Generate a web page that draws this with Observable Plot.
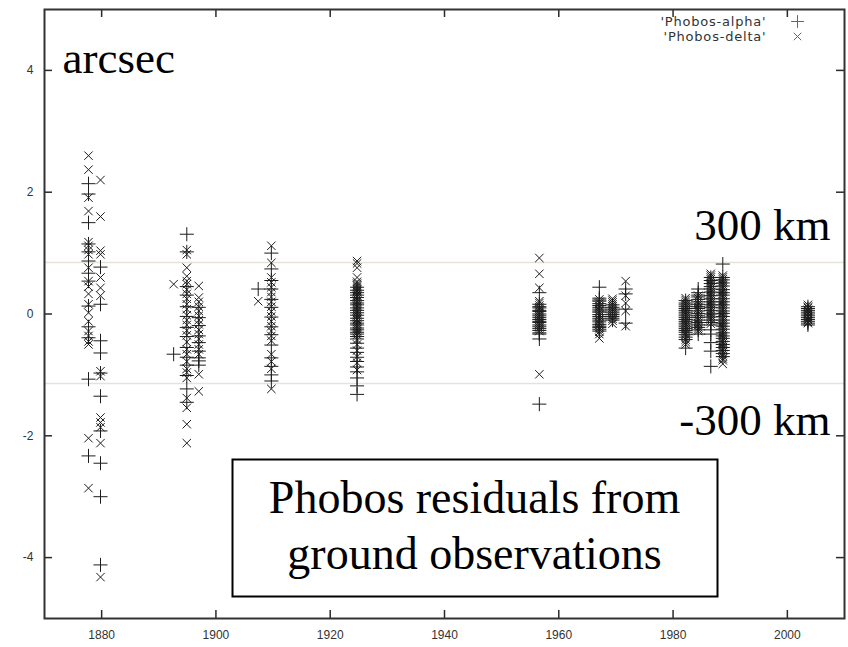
<!DOCTYPE html>
<html>
<head>
<meta charset="utf-8">
<script src="https://cdn.jsdelivr.net/npm/d3@7"></script>
<script src="https://cdn.jsdelivr.net/npm/@observablehq/plot@0.6"></script>
<style>
  html, body { margin: 0; padding: 0; background: #fff; }
  #chart { width: 848px; height: 647px; }
</style>
</head>
<body>
<div id="chart"></div>
<script>
// Observation epochs (years) and residuals (arcsec) per epoch
const epochs = [1877.7, 1879.8, 1892.6, 1894.9, 1897.0, 1907.4, 1909.7, 1924.7, 1956.6, 1967.1, 1969.4, 1971.7, 1982.2, 1984.4, 1986.6, 1988.7, 2003.6];

const alphaValues = [
  [2.14, 1.97, 1.50, 1.15, 1.02, 0.87, 0.67, 0.54, 0.13, -0.21, -0.39, -1.07, -2.33],
  [0.77, 0.16, -0.44, -0.64, -0.97, -1.35, -1.92, -2.45, -3.0, -4.12],
  [-0.66],
  [1.31, 1.02, 0.45, 0.31, 0.12, -0.04, -0.22, -0.37, -0.55, -0.71, -0.84, -1.01, -1.23, -1.45],
  [0.11, -0.06, -0.19, -0.36, -0.47, -0.61, -0.72, -0.77, -0.84],
  [0.41],
  [1.0, 0.74, 0.55, 0.41, 0.24, 0.11, -0.05, -0.21, -0.34, -0.51, -0.72, -0.86, -1.0, -1.1],
  [0.44, 0.39, 0.35, 0.31, 0.27, 0.22, 0.18, 0.15, 0.1, 0.06, 0.02, -0.02, -0.07, -0.11, -0.15, -0.18, -0.23, -0.26, -0.3, -0.33, -0.37, -0.41, -0.48, -0.56, -0.63, -0.71, -0.78, -0.87, -0.95, -1.05, -1.18, -1.32],
  [0.35, 0.16, 0.12, 0.1, 0.06, 0.04, 0.0, -0.03, -0.06, -0.09, -0.12, -0.14, -0.18, -0.21, -0.24, -0.27, -0.31, -0.33, -0.41, -1.48],
  [0.44, 0.26, 0.23, 0.21, 0.17, 0.14, 0.11, 0.08, 0.05, 0.03, -0.01, -0.04, -0.07, -0.1, -0.13, -0.17, -0.2, -0.22, -0.25, -0.28],
  [0.15, 0.11, 0.08, 0.05, 0.02, -0.01, -0.04, -0.07, -0.1],
  [0.41, 0.33, 0.08, -0.15],
  [0.22, 0.18, 0.15, 0.12, 0.09, 0.06, 0.03, 0.0, -0.03, -0.06, -0.09, -0.12, -0.15, -0.18, -0.21, -0.24, -0.27, -0.3, -0.34, -0.38, -0.42, -0.56],
  [0.41, 0.35, 0.31, 0.28, 0.24, 0.2, 0.16, 0.12, 0.09, 0.05, 0.01, -0.03, -0.06, -0.1, -0.14, -0.18, -0.22, -0.26, -0.33],
  [0.6, 0.55, 0.5, 0.45, 0.41, 0.36, 0.3, 0.25, 0.2, 0.15, 0.11, 0.06, 0.0, -0.05, -0.1, -0.14, -0.18, -0.26, -0.33, -0.47, -0.61, -0.86],
  [0.82, 0.6, 0.56, 0.51, 0.46, 0.4, 0.35, 0.31, 0.25, 0.2, 0.15, 0.1, 0.05, 0.01, -0.04, -0.1, -0.15, -0.2, -0.25, -0.31, -0.36, -0.4, -0.45, -0.5, -0.55, -0.6, -0.65, -0.7],
  [0.12, 0.09, 0.06, 0.03, 0.0, -0.03, -0.06, -0.09, -0.12, -0.15, -0.18]
];

const deltaValues = [
  [2.60, 2.37, 1.91, 1.69, 1.18, 1.12, 1.05, 0.98, 0.76, 0.54, 0.45, 0.33, 0.16, 0.02, -0.12, -0.28, -0.36, -0.45, -0.5, -2.04, -2.86],
  [2.20, 1.60, 1.04, 0.98, 0.6, 0.43, 0.3, -0.94, -1.02, -1.70, -1.78, -1.86, -2.12, -4.32],
  [0.49],
  [1.05, 0.98, 0.76, 0.62, 0.54, 0.49, 0.40, 0.33, 0.25, 0.16, 0.08, -0.02, -0.1, -0.18, -0.27, -0.35, -0.46, -0.58, -0.66, -0.78, -0.9, -0.96, -1.05, -1.38, -1.54, -1.81, -2.12],
  [0.46, 0.27, 0.2, 0.12, 0.05, -0.03, -0.1, -0.17, -0.26, -0.33, -0.41, -0.5, -0.58, -0.66, -0.99, -1.27],
  [0.21],
  [1.12, 0.84, 0.6, 0.52, 0.44, 0.36, 0.28, 0.2, 0.12, 0.04, -0.04, -0.12, -0.2, -0.28, -0.36, -0.44, -0.66, -0.78, -0.9, -1.23],
  [0.87, 0.83, 0.76, 0.6, 0.53, 0.5, 0.47, 0.45, 0.42, 0.4, 0.38, 0.36, 0.33, 0.3, 0.28, 0.25, 0.22, 0.2, 0.17, 0.14, 0.12, 0.09, 0.06, 0.04, 0.01, -0.02, -0.05, -0.08, -0.1, -0.13, -0.16, -0.19, -0.22, -0.25, -0.28, -0.31, -0.34, -0.42, -0.5, -0.6, -0.7, -0.8, -0.92],
  [0.92, 0.66, 0.43, 0.21, 0.18, 0.14, 0.11, 0.08, 0.05, 0.02, -0.01, -0.04, -0.07, -0.1, -0.13, -0.16, -0.19, -0.22, -0.25, -0.28, -0.99],
  [0.24, 0.2, 0.17, 0.13, 0.1, 0.06, 0.03, -0.01, -0.04, -0.08, -0.11, -0.15, -0.18, -0.22, -0.25, -0.29, -0.33, -0.4],
  [0.25, 0.22, 0.19, 0.16, 0.13, 0.1, 0.07, 0.04, 0.01, -0.02, -0.05, -0.08, -0.11, -0.16],
  [0.54, 0.3, 0.18, 0.05, -0.2],
  [0.26, 0.23, 0.2, 0.17, 0.14, 0.11, 0.08, 0.05, 0.02, -0.01, -0.04, -0.07, -0.1, -0.13, -0.16, -0.19, -0.22, -0.25, -0.28, -0.31, -0.34, -0.38, -0.42, -0.46, -0.5],
  [0.3, 0.26, 0.22, 0.18, 0.15, 0.11, 0.08, 0.04, 0.0, -0.04, -0.08, -0.11, -0.15, -0.18, -0.22, -0.25, -0.28],
  [0.66, 0.63, 0.6, 0.57, 0.54, 0.51, 0.48, 0.45, 0.42, 0.39, 0.36, 0.33, 0.3, 0.27, 0.24, 0.21, 0.18, 0.15, 0.12, 0.09, 0.06, 0.03, 0.0, -0.03, -0.06, -0.09, -0.12, -0.16],
  [0.63, 0.6, 0.57, 0.54, 0.51, 0.48, 0.45, 0.42, 0.39, 0.36, 0.33, 0.3, 0.27, 0.24, 0.21, 0.18, 0.15, 0.12, 0.09, 0.06, 0.03, 0.0, -0.03, -0.06, -0.09, -0.12, -0.15, -0.18, -0.21, -0.24, -0.27, -0.3, -0.33, -0.36, -0.39, -0.42, -0.45, -0.48, -0.51, -0.54, -0.57, -0.6, -0.63, -0.66, -0.69, -0.73, -0.76, -0.82],
  [0.15, 0.12, 0.1, 0.07, 0.05, 0.02, 0.0, -0.03, -0.05, -0.08, -0.1, -0.13, -0.15]
];

const xTicks = [1880, 1900, 1920, 1940, 1960, 1980, 2000];
const yTicks = [-4, -2, 0, 2, 4];
const kmLines = [0.845, -1.14];   // ±300 km
const seriesNames = ["'Phobos-alpha'", "'Phobos-delta'"];

const alphaRows = epochs.flatMap((yr, i) => alphaValues[i].map(v => ({year: yr, value: v})));
const deltaRows = epochs.flatMap((yr, i) => deltaValues[i].map(v => ({year: yr, value: v})));

const W = 848, H = 647;
const mL = 44, mR = 4, mT = 9, mB = 29;
const fw = W - mL - mR, fh = H - mT - mB;
const tickLen = 8;
const serif = "'Liberation Serif', 'Times New Roman', serif";
const ink = "#1c1c1c";
const axisInk = "#2a2a2a";

const chart = Plot.plot({
  width: W, height: H,
  marginLeft: mL, marginRight: mR, marginTop: mT, marginBottom: mB,
  style: {fontFamily: "'Liberation Sans', Arial, sans-serif", fontSize: "12px", color: "#333", background: "#fff"},
  x: {domain: [1870, 2010], label: null},
  y: {domain: [-5, 5], label: null},
  marks: [
    Plot.ruleY(kmLines, {stroke: "#e7e3d4", strokeWidth: 1.6}),
    Plot.dot(alphaRows, {x: "year", y: "value", symbol: "plus", r: 4.6, stroke: ink, strokeWidth: 1}),
    Plot.dot(deltaRows, {x: "year", y: "value", symbol: "times", r: 3.9, stroke: ink, strokeWidth: 1}),
    // gnuplot-style inward ticks on all four sides
    Plot.ruleX(xTicks, {x: d => d, insetTop: fh - tickLen, stroke: axisInk, strokeWidth: 1.5}),
    Plot.ruleX(xTicks, {x: d => d, insetBottom: fh - tickLen, stroke: axisInk, strokeWidth: 1.5}),
    Plot.ruleY(yTicks, {y: d => d, insetRight: fw - tickLen, stroke: axisInk, strokeWidth: 1.5}),
    Plot.ruleY(yTicks, {y: d => d, insetLeft: fw - tickLen, stroke: axisInk, strokeWidth: 1.5}),
    Plot.frame({stroke: "#333", strokeWidth: 2}),
    Plot.axisX(xTicks, {tickSize: 0, tickPadding: 12, fontSize: 12, tickFormat: d => String(d)}),
    Plot.axisY(yTicks, {tickSize: 0, tickPadding: 11, fontSize: 12, tickFormat: d => String(d)}),
    // legend
    Plot.text([seriesNames[0]], {frameAnchor: "top-right", dx: -78, dy: 12, text: d => d, textAnchor: "end", lineAnchor: "middle", fontSize: 13, fontFamily: "'DejaVu Sans', sans-serif", fill: "#333"}),
    Plot.text([seriesNames[1]], {frameAnchor: "top-right", dx: -78, dy: 27, text: d => d, textAnchor: "end", lineAnchor: "middle", fontSize: 13, fontFamily: "'DejaVu Sans', sans-serif", fill: "#333"}),
    Plot.dot([seriesNames[0]], {frameAnchor: "top-right", dx: -47, dy: 12, symbol: "plus", r: 4.2, stroke: "#666", strokeWidth: 1}),
    Plot.dot([seriesNames[1]], {frameAnchor: "top-right", dx: -47, dy: 27, symbol: "times", r: 3.5, stroke: "#666", strokeWidth: 1}),
    // annotations
    Plot.text(["arcsec"], {frameAnchor: "top-left", dx: 18, dy: 63, text: d => d, textAnchor: "start", lineAnchor: "bottom", fontSize: 45, fontFamily: serif, fill: "#000"}),
    Plot.text(["300 km"], {frameAnchor: "top-right", dx: -14, dy: 230, text: d => d, textAnchor: "end", lineAnchor: "bottom", fontSize: 45, fontFamily: serif, fill: "#000"}),
    Plot.text(["-300 km"], {frameAnchor: "top-right", dx: -14, dy: 425, text: d => d, textAnchor: "end", lineAnchor: "bottom", fontSize: 45, fontFamily: serif, fill: "#000"}),
    Plot.frame({insetLeft: 188, insetRight: 127, insetTop: 450, insetBottom: 22, stroke: "#000", strokeWidth: 2, fill: "#fff"}),
    Plot.text(["Phobos residuals from\nground observations"], {frameAnchor: "top-left", dx: 430, dy: 559, text: d => d, textAnchor: "middle", lineAnchor: "bottom", lineHeight: 1.2, fontSize: 46, fontFamily: serif, fill: "#000"})
  ]
});
d3.select(chart).selectAll("text").filter(function() { return seriesNames.includes(this.textContent); }).attr("letter-spacing", "0.8px");
document.getElementById("chart").appendChild(chart);
</script>
</body>
</html>
